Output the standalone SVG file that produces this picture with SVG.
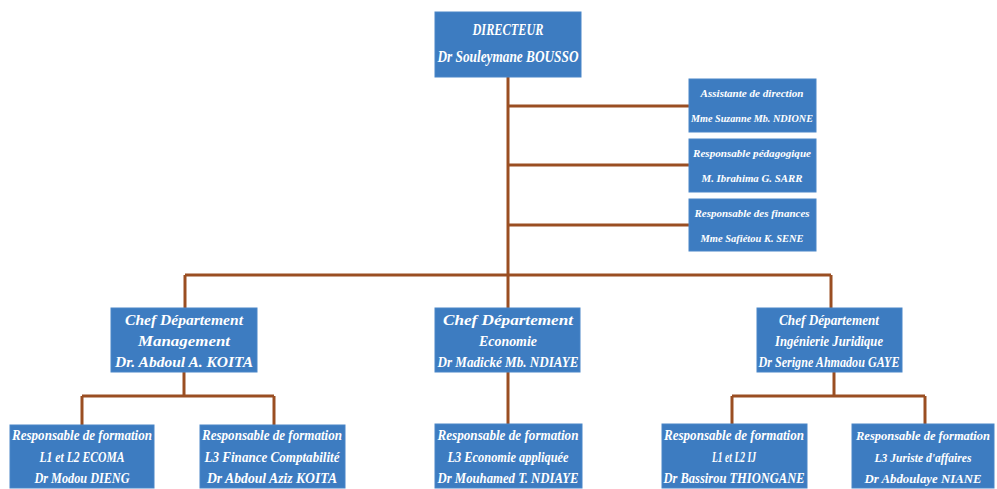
<svg xmlns="http://www.w3.org/2000/svg" width="997" height="489" viewBox="0 0 997 489">
<style>
.bg{fill:#ffffff}
.box{fill:#3d7cc1;stroke:#4a86c8;stroke-width:1}
.t{font-family:"Liberation Serif","Times New Roman",serif;font-style:italic;font-weight:bold;fill:#ffffff;text-anchor:middle}
.t16{font-size:17px}
.t14{font-size:15px}
.t13{font-size:13px}
.t9{font-size:10px}
.conn path{fill:none;stroke:#9a4e22;stroke-width:3}
</style>
<rect class="bg" x="0" y="0" width="997" height="489"/>
<g class="conn" id="connectors">
<path d="M508 77V275"/>
<path d="M508 106H689"/>
<path d="M508 165H689"/>
<path d="M508 225H689"/>
<path d="M185 275H831"/>
<path d="M185 275V308"/>
<path d="M508 275V308"/>
<path d="M831 275V308"/>
<path d="M184 372V396"/>
<path d="M82 396H274"/>
<path d="M82 396V425"/>
<path d="M274 396V425"/>
<path d="M508 372V424"/>
<path d="M834 372V396"/>
<path d="M732 396H925"/>
<path d="M732 396V424"/>
<path d="M925 396V424"/>
</g>
<g id="directeur">
<rect class="box" x="435" y="12" width="146" height="65"/>
<text class="t t16" x="508" y="35" textLength="71" lengthAdjust="spacingAndGlyphs">DIRECTEUR</text>
<text class="t t16" x="508" y="62" textLength="141" lengthAdjust="spacingAndGlyphs">Dr Souleymane BOUSSO</text>
</g>
<g id="assistante">
<rect class="box" x="689" y="79" width="127" height="53"/>
<text class="t t9" x="752" y="97" textLength="103" lengthAdjust="spacingAndGlyphs">Assistante de direction</text>
<text class="t t9" x="752" y="122" textLength="122" lengthAdjust="spacingAndGlyphs">Mme Suzanne Mb. NDIONE</text>
</g>
<g id="pedagogique">
<rect class="box" x="689" y="139" width="127" height="53"/>
<text class="t t9" x="752" y="157" textLength="118" lengthAdjust="spacingAndGlyphs">Responsable pédagogique</text>
<text class="t t9" x="752" y="182" textLength="101" lengthAdjust="spacingAndGlyphs">M. Ibrahima G. SARR</text>
</g>
<g id="finances">
<rect class="box" x="689" y="199" width="127" height="52"/>
<text class="t t9" x="752" y="217" textLength="115" lengthAdjust="spacingAndGlyphs">Responsable des finances</text>
<text class="t t9" x="752" y="242" textLength="103" lengthAdjust="spacingAndGlyphs">Mme Safiétou K. SENE</text>
</g>
<g id="dept-management">
<rect class="box" x="111" y="308" width="146" height="64"/>
<text class="t t14" x="184" y="325" textLength="118" lengthAdjust="spacingAndGlyphs">Chef Département</text>
<text class="t t14" x="184" y="346" textLength="92" lengthAdjust="spacingAndGlyphs">Management</text>
<text class="t t14" x="184" y="367" textLength="138" lengthAdjust="spacingAndGlyphs">Dr. Abdoul A. KOITA</text>
</g>
<g id="dept-economie">
<rect class="box" x="435" y="308" width="145" height="64"/>
<text class="t t14" x="508" y="325" textLength="130" lengthAdjust="spacingAndGlyphs">Chef Département</text>
<text class="t t14" x="508" y="346" textLength="58" lengthAdjust="spacingAndGlyphs">Economie</text>
<text class="t t14" x="508" y="367" textLength="141" lengthAdjust="spacingAndGlyphs">Dr Madické Mb. NDIAYE</text>
</g>
<g id="dept-juridique">
<rect class="box" x="757" y="308" width="145" height="64"/>
<text class="t t14" x="829" y="325" textLength="100" lengthAdjust="spacingAndGlyphs">Chef Département</text>
<text class="t t14" x="829" y="346" textLength="108" lengthAdjust="spacingAndGlyphs">Ingénierie Juridique</text>
<text class="t t14" x="829" y="367" textLength="141" lengthAdjust="spacingAndGlyphs">Dr Serigne Ahmadou GAYE</text>
</g>
<g id="rf-ecoma">
<rect class="box" x="10" y="425" width="144" height="63"/>
<text class="t t14" x="82" y="440" textLength="140" lengthAdjust="spacingAndGlyphs">Responsable de formation</text>
<text class="t t14" x="82" y="462" textLength="85" lengthAdjust="spacingAndGlyphs">L1 et L2 ECOMA</text>
<text class="t t14" x="82" y="483" textLength="95" lengthAdjust="spacingAndGlyphs">Dr Modou DIENG</text>
</g>
<g id="rf-finance">
<rect class="box" x="200" y="425" width="145" height="63"/>
<text class="t t14" x="272" y="440" textLength="140" lengthAdjust="spacingAndGlyphs">Responsable de formation</text>
<text class="t t14" x="272" y="462" textLength="135" lengthAdjust="spacingAndGlyphs">L3 Finance Comptabilité</text>
<text class="t t14" x="272" y="483" textLength="130" lengthAdjust="spacingAndGlyphs">Dr Abdoul Aziz KOITA</text>
</g>
<g id="rf-economie">
<rect class="box" x="435" y="424" width="147" height="64"/>
<text class="t t14" x="508" y="440" textLength="141" lengthAdjust="spacingAndGlyphs">Responsable de formation</text>
<text class="t t14" x="508" y="462" textLength="121" lengthAdjust="spacingAndGlyphs">L3 Economie appliquée</text>
<text class="t t14" x="508" y="483" textLength="141" lengthAdjust="spacingAndGlyphs">Dr Mouhamed T. NDIAYE</text>
</g>
<g id="rf-ij">
<rect class="box" x="662" y="424" width="145" height="64"/>
<text class="t t14" x="734" y="440" textLength="140" lengthAdjust="spacingAndGlyphs">Responsable de formation</text>
<text class="t t14" x="734" y="462" textLength="44" lengthAdjust="spacingAndGlyphs">L1 et L2 IJ</text>
<text class="t t14" x="734" y="483" textLength="141" lengthAdjust="spacingAndGlyphs">Dr Bassirou THIONGANE</text>
</g>
<g id="rf-juriste">
<rect class="box" x="852" y="424" width="142" height="64"/>
<text class="t t13" x="923" y="440" textLength="134" lengthAdjust="spacingAndGlyphs">Responsable de formation</text>
<text class="t t13" x="923" y="462" textLength="97" lengthAdjust="spacingAndGlyphs">L3 Juriste d'affaires</text>
<text class="t t13" x="923" y="483" textLength="117" lengthAdjust="spacingAndGlyphs">Dr Abdoulaye NIANE</text>
</g>
</svg>
